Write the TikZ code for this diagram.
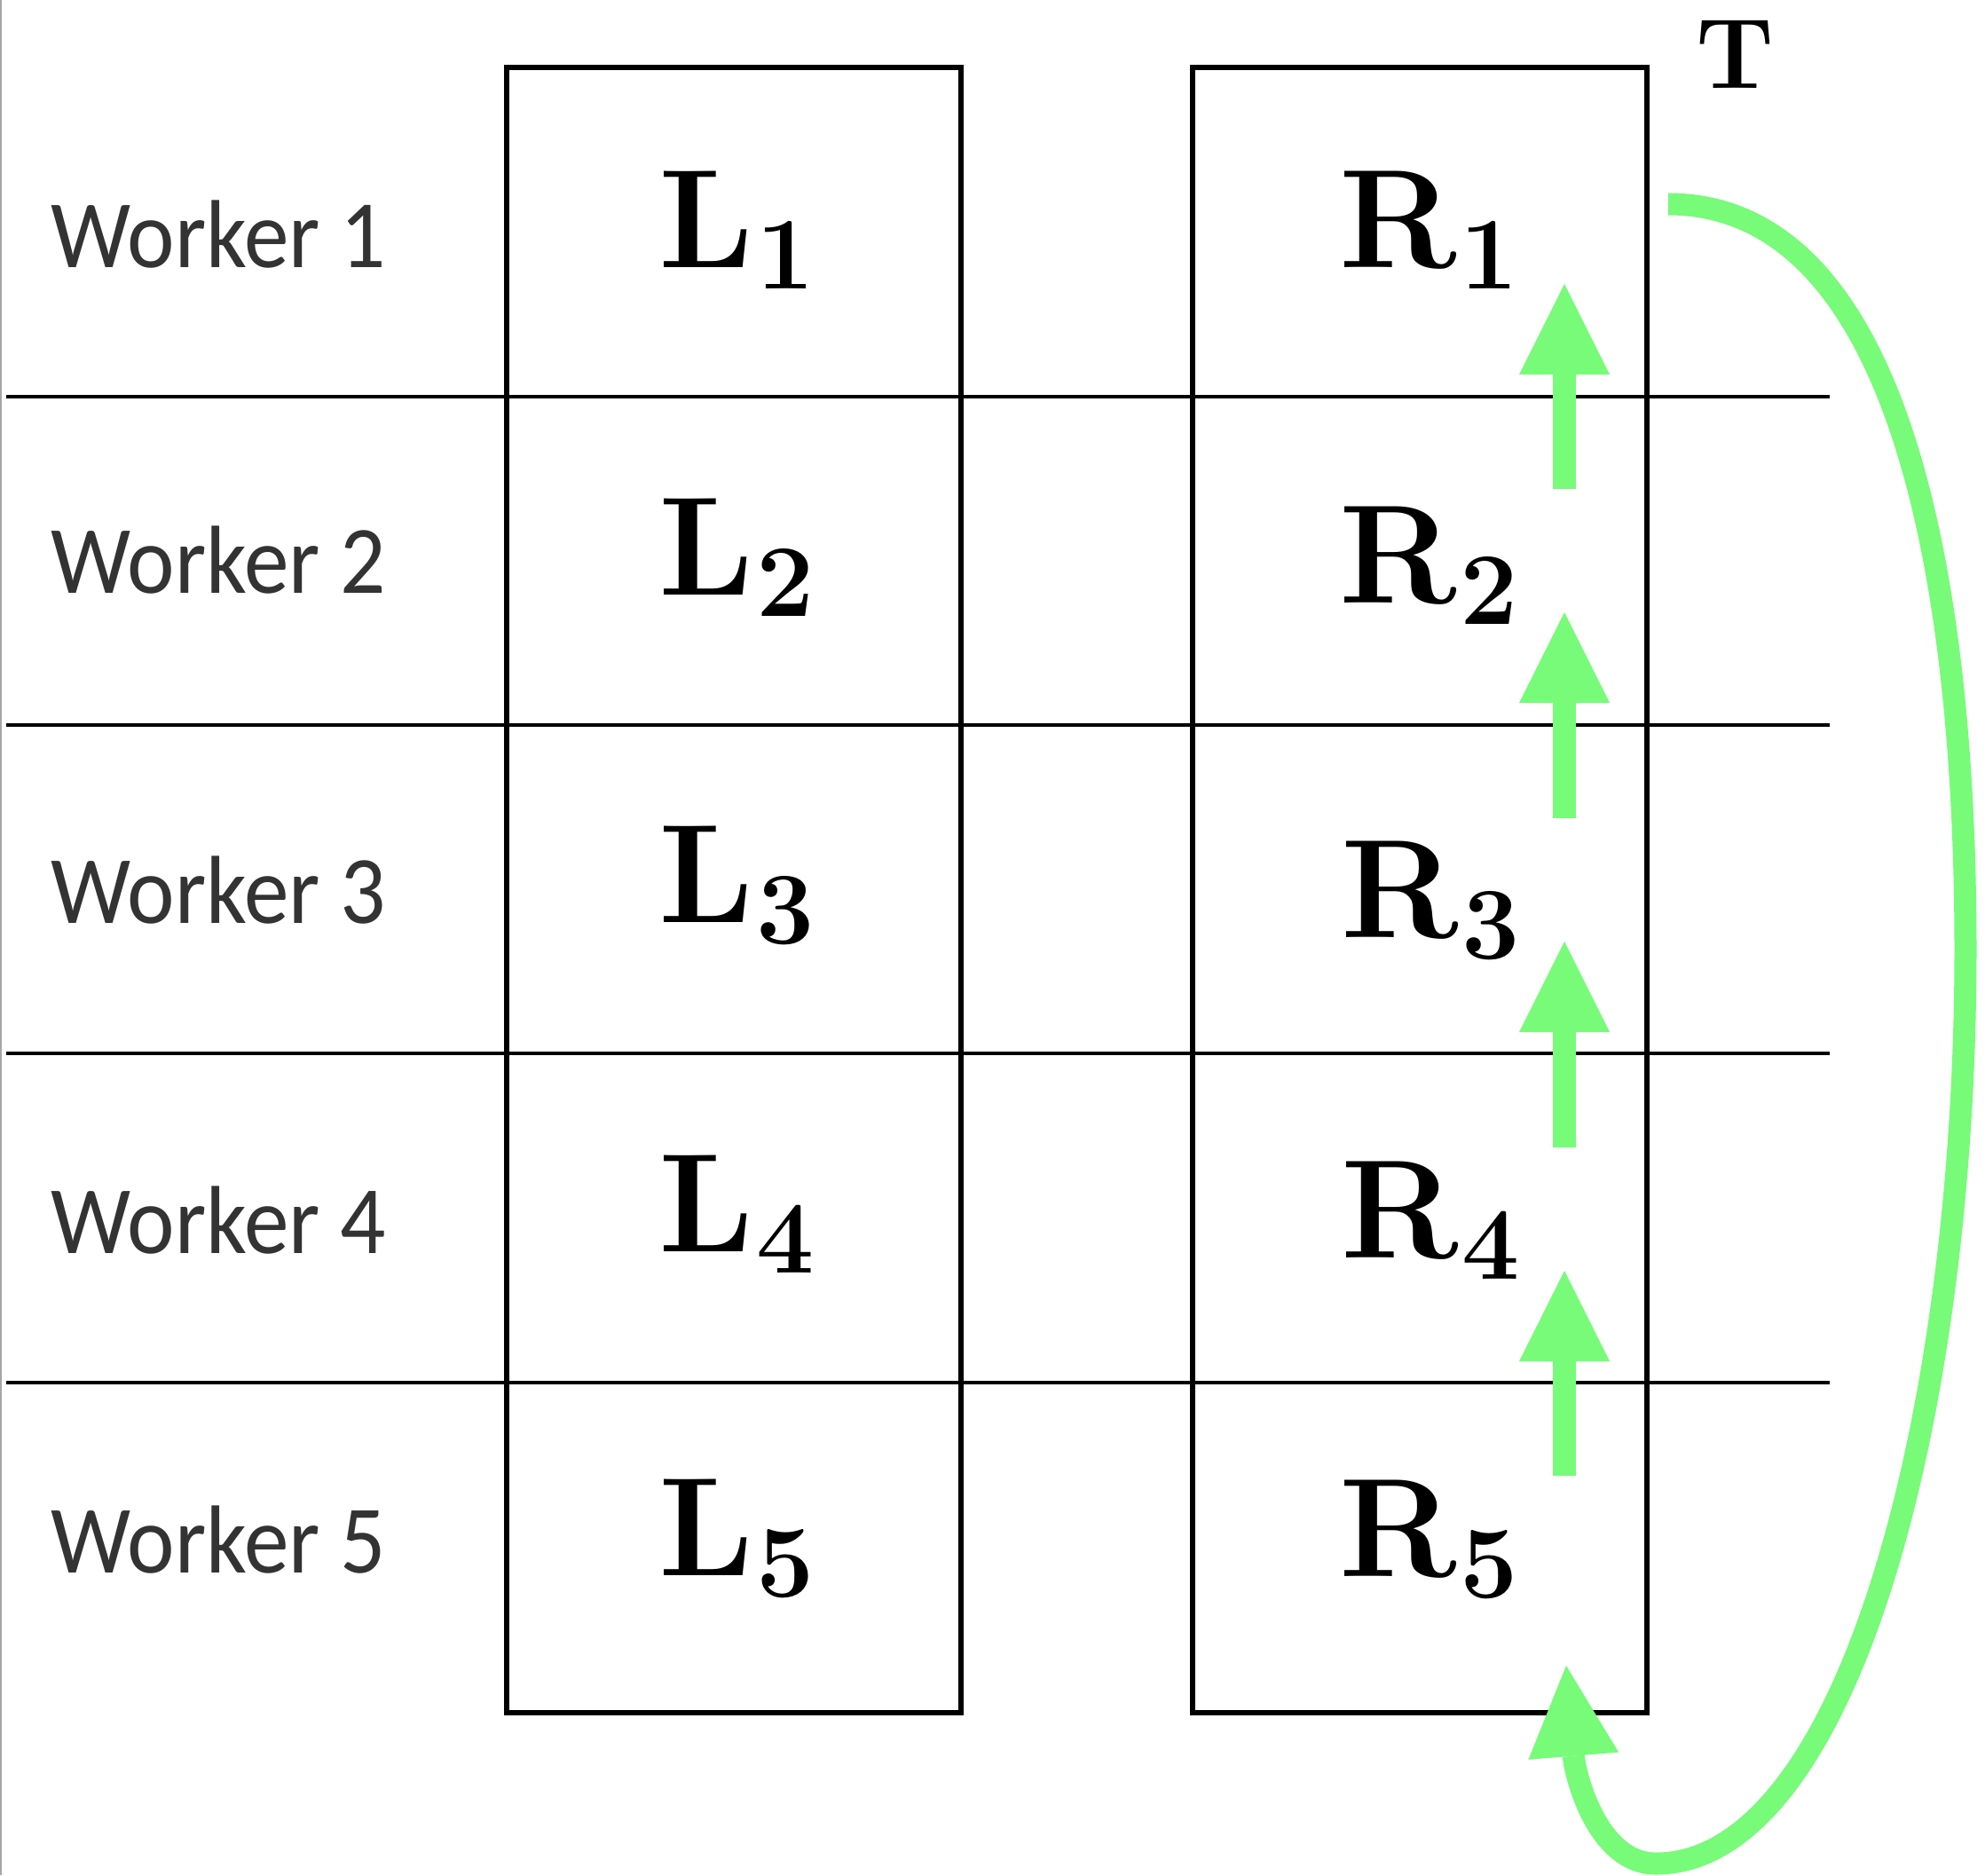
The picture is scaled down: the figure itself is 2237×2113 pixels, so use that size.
\documentclass[tikz,border=0pt]{standalone}
\usepackage{fontspec}
\usepackage{tikz}
\usetikzlibrary{arrows.meta}
\newfontfamily\workerfont[FakeStretch=0.93]{Carlito}
\definecolor{passgreen}{HTML}{77FB79}
\definecolor{labelgray}{HTML}{333333}
\newcommand{\shardtext}[2]{\textbf{#1}\kern1pt\raisebox{-2.4mm}{\fontsize{33}{38}\selectfont\textbf{#2}}}

\begin{document}
\begin{tikzpicture}[
    x=0.1mm, y=-0.1mm,
    column/.style={rectangle, draw, line width=0.55mm, inner sep=0pt,
                   minimum width=51.2mm, minimum height=185.4mm},
    worker/.style={anchor=base west, inner sep=0pt, text=labelgray,
                   font=\workerfont\fontsize{31}{36}\selectfont},
    shard/.style={anchor=base, inner sep=0pt,
                  font=\fontsize{45}{54}\selectfont},
    rowline/.style={line width=0.45mm},
    pass/.style={-{Triangle[length=10.2mm, width=10.2mm, line width=0pt]},
                 line width=2.6mm, passgreen},
    wrap/.style={-{Triangle[length=10.2mm, width=10.2mm, line width=0pt]},
                 line width=2.5mm, passgreen},
  ]

  \useasboundingbox (0,0) rectangle (2237,2113);
  \draw[gray!70, line width=0.2mm] (1,0) -- (1,2113);

  \node[column] (lcol) at (827,1003) {};
  \node[column] (rcol) at (1600,1003) {};

  \draw[rowline] (7,447) -- (2062,447);
  \draw[rowline] (7,817) -- (2062,817);
  \draw[rowline] (7,1187) -- (2062,1187);
  \draw[rowline] (7,1558) -- (2062,1558);

  \node[worker] (w1) at (57,301) {Worker 1};
  \node[worker] (w2) at (57,668) {Worker 2};
  \node[worker] (w3) at (57,1040) {Worker 3};
  \node[worker] (w4) at (57,1412) {Worker 4};
  \node[worker] (w5) at (57,1772) {Worker 5};

  \node[shard] (l1) at (830,301) {\shardtext{L}{1}};
  \node[shard] (l2) at (830,670) {\shardtext{L}{2}};
  \node[shard] (l3) at (830,1039) {\shardtext{L}{3}};
  \node[shard] (l4) at (830,1410) {\shardtext{L}{4}};
  \node[shard] (l5) at (830,1775) {\shardtext{L}{5}};

  \node[shard] (r1) at (1610,301) {\shardtext{R}{1}};
  \node[shard] (r2) at (1610,679) {\shardtext{R}{2}};
  \node[shard] (r3) at (1612,1056) {\shardtext{R}{3}};
  \node[shard] (r4) at (1612,1417) {\shardtext{R}{4}};
  \node[shard] (r5) at (1610,1776) {\shardtext{R}{5}};

  \node[shard, font=\fontsize{32}{36}\selectfont] (tlabel) at (1955,99) {\textbf{T}};

  % shifts between neighbouring workers
  \coordinate (up1s) at (1763,551);  \coordinate (up1e) at (1763,320);
  \coordinate (up2s) at (1763,922);  \coordinate (up2e) at (1763,690);
  \coordinate (up3s) at (1763,1293); \coordinate (up3e) at (1763,1061);
  \coordinate (up4s) at (1763,1663); \coordinate (up4e) at (1763,1432);
  \draw[pass] (up1s) -- (up1e);
  \draw[pass] (up2s) -- (up2e);
  \draw[pass] (up3s) -- (up3e);
  \draw[pass] (up4s) -- (up4e);

  % wrap around from R1 back to R5
  \coordinate (wrapstart) at (1880,230);
  \coordinate (wrapend) at (1765,1877);
  \draw[wrap] (wrapstart) .. controls (2140,230) and (2215,650) .. (2215,1070)
      .. controls (2215,1600) and (2080,2100) .. (1866,2100)
      .. controls (1800,2100) and (1775,2000) .. (wrapend);
\end{tikzpicture}
\end{document}
